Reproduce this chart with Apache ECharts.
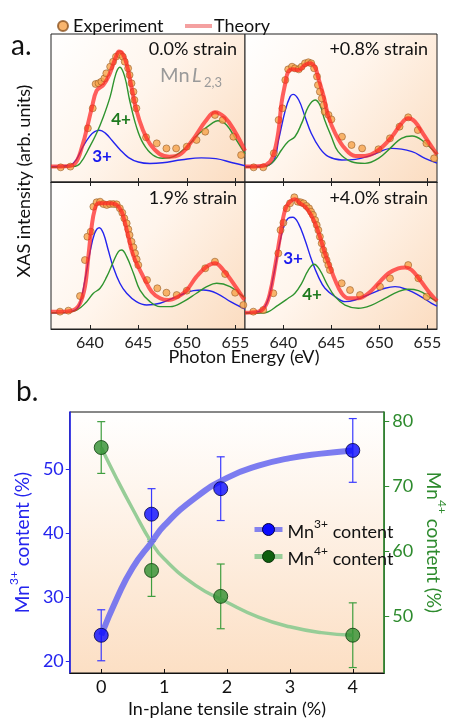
<!DOCTYPE html>
<html><head><meta charset="utf-8">
<script src="https://cdn.jsdelivr.net/npm/echarts@6/dist/echarts.min.js"></script>
<style>html,body{margin:0;padding:0;background:#fff}#c{width:456px;height:719px}</style>
</head><body><div id="c"></div>
<script>
// ---------- Panel a : XAS spectra (photon energy eV, intensity arb. units 0-100) ----------
const ticksA = [640, 645, 650, 655];

const exp_00 = [[637.0,9.9],[638.0,10.4],[639.8,36.3],[640.3,49.8],[640.6,66.2],[640.9,66.7],[641.2,67.8],[641.5,70.0],[641.7,73.4],[642.1,77.9],[642.4,81.3],[642.7,84.7],[643.1,86.3],[643.4,84.7],[643.6,81.3],[643.95,76.8],[644.1,72.3],[644.3,66.7],[644.5,61.0],[644.6,55.4],[644.8,49.8],[645.8,30.2],[646.9,26.1],[647.9,22.7],[648.9,22.7],[650.0,23.9],[651.0,28.4],[651.9,34.0],[652.9,45.3],[653.7,41.9],[654.8,30.6],[655.6,18.2]];
const th_00 = [[636.0,10.4],[637.5,10.6],[638.5,12.6],[639.3,26.1],[639.7,36.3],[640.2,49.8],[640.7,61.7],[641.4,65.5],[642.0,72.3],[642.7,84.7],[643.0,88.1],[643.4,86.5],[643.8,79.7],[644.3,64.0],[644.8,48.6],[645.5,34.7],[646.2,25.7],[647.2,18.9],[648.2,17.1],[649.2,18.2],[650.6,28.4],[651.9,40.8],[652.9,47.1],[653.9,43.7],[654.9,34.7],[656.0,21.0]];
const mn3_00 = [[636.0,10.4],[638.0,11.5],[638.6,15.0],[639.3,24.0],[640.0,31.0],[640.5,34.0],[641.0,35.0],[641.6,33.0],[642.3,28.0],[643.1,22.0],[644.0,16.5],[645.0,13.5],[646.2,12.5],[647.5,13.0],[649.5,15.0],[651.5,16.3],[653.0,15.8],[654.7,13.0],[656.0,11.0]];
const mn4_00 = [[636.0,9.9],[638.3,10.4],[639.0,12.6],[640.0,23.9],[640.7,32.9],[641.4,44.1],[642.1,57.7],[642.7,73.4],[643.1,77.5],[643.6,71.2],[644.1,55.4],[644.8,37.4],[645.5,26.1],[646.5,18.2],[647.5,16.0],[648.6,17.1],[650.0,23.9],[651.3,32.9],[652.7,40.1],[653.2,41.4],[654.1,38.5],[655.1,28.4],[656.0,19.0]];

const exp_08 = [[636.9,9.9],[637.9,9.9],[639.0,19.4],[639.5,41.9],[639.9,49.8],[640.2,68.9],[640.5,76.1],[640.9,77.9],[641.2,76.8],[641.6,76.1],[641.9,77.9],[642.25,80.2],[642.6,80.9],[642.9,80.2],[643.2,76.8],[643.5,71.2],[643.6,65.5],[643.8,61.0],[644.0,56.5],[644.2,52.0],[644.3,47.5],[644.7,45.3],[645.0,42.3],[646.1,30.6],[647.1,25.0],[648.2,22.7],[649.9,22.1],[651.1,29.5],[652.1,37.4],[653.0,43.7],[654.0,35.1],[654.9,26.1],[655.7,16.0]];
const th_08 = [[636.0,10.4],[637.7,10.8],[638.6,13.7],[639.1,21.6],[639.5,35.1],[639.8,53.2],[640.2,66.7],[640.5,74.5],[641.0,76.1],[641.6,75.7],[642.25,79.1],[642.8,80.2],[643.3,77.5],[643.6,71.2],[644.2,57.7],[644.7,44.1],[645.4,32.9],[646.4,22.7],[647.5,17.6],[648.5,17.6],[649.9,21.6],[651.3,30.6],[652.3,39.6],[653.0,43.0],[653.7,40.8],[654.75,30.6],[656.0,18.5]];
const mn3_08 = [[636.0,10.4],[638.0,10.8],[639.0,14.5],[639.5,28.4],[640.2,48.6],[640.7,57.7],[641.0,59.2],[641.6,55.4],[642.25,44.1],[642.9,32.9],[643.8,22.7],[644.7,17.1],[646.1,14.9],[647.5,15.3],[649.2,18.2],[651.3,22.7],[653.4,20.5],[654.75,16.0],[656.0,12.8]];
const mn4_08 = [[636.0,9.9],[638.1,10.4],[639.1,14.9],[639.8,21.6],[640.5,27.3],[641.2,30.6],[641.9,39.6],[642.6,50.9],[643.3,55.4],[643.8,52.0],[644.3,41.9],[645.0,30.6],[645.7,20.5],[647.1,13.7],[648.5,12.6],[649.9,16.0],[651.3,23.9],[652.3,29.5],[653.4,31.1],[654.4,28.4],[656.0,18.5]];

const exp_19 = [[636.93,11.8],[637.79,12.5],[638.99,22.4],[639.5,46.9],[639.75,62.8],[640.1,66.2],[640.37,83.2],[640.7,86.2],[641.06,86.6],[641.4,85.0],[641.75,84.4],[642.08,85.0],[642.43,85.0],[642.77,84.8],[643.1,82.1],[643.35,79.1],[643.56,75.3],[643.8,71.9],[643.97,67.8],[644.1,63.9],[644.3,59.4],[644.5,55.6],[644.66,51.5],[644.83,47.4],[645.0,43.5],[645.9,33.3],[646.96,27.7],[647.9,24.7],[648.96,23.1],[650.0,26.1],[651.9,41.3],[652.9,45.8],[653.95,37.4],[654.98,24.7],[655.83,16.3]];
const th_19 = [[636.0,11.8],[636.93,11.8],[638.3,12.9],[638.99,17.5],[639.5,28.8],[639.85,49.2],[640.19,69.6],[640.5,81.0],[640.88,85.5],[641.4,85.5],[642.08,85.5],[642.77,84.4],[643.28,79.8],[643.63,71.9],[643.97,62.8],[644.3,53.7],[644.66,46.9],[645.17,40.1],[645.69,33.3],[646.38,25.4],[647.24,20.9],[648.1,19.7],[649.1,22.0],[650.0,26.5],[651.0,35.6],[652.05,42.4],[652.9,44.7],[653.77,40.1],[654.8,31.1],[655.83,20.9],[656.0,20.0]];
const mn3_19 = [[636.0,11.1],[636.93,11.1],[638.47,12.9],[638.99,17.5],[639.5,33.3],[640.0,51.5],[640.5,65.1],[640.98,68.9],[641.4,65.1],[641.9,53.7],[642.4,42.4],[643.1,31.1],[643.8,24.3],[644.8,18.6],[645.86,16.3],[647.24,17.5],[648.96,22.0],[650.68,26.1],[651.7,26.5],[653.08,24.3],[654.5,18.6],[655.83,14.1],[656.0,13.8]];
const mn4_19 = [[636.0,11.1],[636.93,11.1],[638.65,12.9],[639.68,18.6],[640.37,24.3],[641.06,27.7],[641.75,35.6],[642.43,45.8],[642.95,52.6],[643.28,53.7],[643.8,49.2],[644.5,37.9],[645.17,26.5],[646.2,18.6],[647.24,15.2],[648.27,15.2],[649.65,18.6],[651.0,24.3],[652.05,28.8],[653.08,31.1],[654.46,28.8],[655.83,22.0],[656.0,21.5]];

const exp_40 = [[636.87,11.8],[637.9,12.9],[638.95,24.3],[639.47,51.5],[639.7,67.3],[640.0,72.3],[640.34,82.1],[640.69,85.5],[641.14,89.6],[641.49,86.6],[641.8,86.2],[642.1,85.5],[642.4,83.7],[642.67,82.1],[642.88,79.8],[643.08,77.6],[643.3,74.1],[643.47,70.7],[643.64,67.3],[643.8,62.8],[643.99,58.3],[644.16,53.7],[644.33,50.3],[644.5,46.9],[644.68,43.5],[644.85,40.1],[646.07,31.1],[646.94,26.5],[647.98,23.1],[650.06,28.8],[651.1,34.5],[653.0,43.5],[654.06,34.5],[654.92,22.0]];
const th_40 = [[636.0,11.1],[637.39,11.8],[638.08,15.2],[638.6,24.3],[639.13,42.4],[639.65,62.8],[640.17,81.0],[640.69,86.6],[641.2,88.2],[641.73,85.5],[642.25,83.2],[642.77,78.7],[643.3,71.9],[643.8,62.8],[644.33,51.5],[644.85,42.4],[645.38,33.3],[646.07,24.3],[646.76,20.9],[647.8,20.9],[648.85,24.3],[649.9,31.1],[650.93,37.9],[651.97,41.3],[652.67,41.9],[653.36,40.1],[654.23,33.3],[655.27,24.3],[656.0,19.0]];
const mn3_40 = [[636.0,11.1],[637.39,11.8],[638.26,17.5],[638.95,35.6],[639.47,53.7],[639.99,68.5],[640.5,75.3],[640.97,76.0],[641.56,71.9],[642.25,60.5],[642.94,46.9],[643.64,35.6],[644.33,27.7],[645.38,22.0],[646.42,18.6],[647.46,19.7],[649.2,24.3],[650.58,27.7],[651.63,28.8],[653.0,26.5],[654.06,23.1],[655.44,17.5],[656.0,15.6]];
const mn4_40 = [[636.0,10.7],[638.08,11.1],[639.47,16.3],[640.5,20.9],[641.2,24.3],[641.9,31.1],[642.6,40.1],[643.2,44.0],[643.8,40.1],[644.5,31.1],[645.38,22.0],[646.42,16.3],[647.8,14.1],[649.2,16.3],[650.58,20.9],[651.97,25.4],[653.0,27.0],[654.06,26.1],[655.44,20.9],[656.0,18.6]];

// ---------- Panel b : Mn valence vs strain ----------
const strain = [0, 0.8, 1.9, 4];
const mn3 = [24, 43, 47, 53];
const mn3Lo = [20, 39, 42, 48];
const mn3Hi = [28, 47, 52, 58];
const mn4 = [76, 57, 53, 47];
const mn4Lo = [72, 53, 48, 42];
const mn4Hi = [80, 61.5, 58, 52];
const fitX = [0, 0.25, 0.5, 0.8, 1, 1.5, 2, 2.5, 3, 3.5, 4];
const mn3Fit = [24, 29.8, 34.6, 38.6, 41.2, 45.6, 48.7, 50.6, 51.8, 52.5, 53.0];
const mn4Fit = [76, 71.1, 66.5, 61.3, 58.8, 54.7, 52.1, 49.8, 48.3, 47.4, 47.0];
const ticksBx = [0, 1, 2, 3, 4];
const ticksBl = [20, 30, 40, 50];
const ticksBr = [50, 60, 70, 80];

// ---------- chart ----------
const FONT = 'Lato';
const BLUE = '#2424ee', GREEN = '#2e8b2e';
const chart = echarts.init(document.getElementById('c'));

const gradA = () => new echarts.graphic.LinearGradient(0, 0, 1, 1, [
  {offset: 0, color: '#ffffff'}, {offset: 0.45, color: '#fff5ec'}, {offset: 1, color: '#fbdcc0'}]);
const gradB = new echarts.graphic.LinearGradient(0, 0, 0, 1, [
  {offset: 0, color: '#ffffff'}, {offset: 1, color: '#fcdfc4'}]);

const gA = (l, t, w, h) => ({left: l, top: t, width: w, height: h, show: true, backgroundColor: gradA(), borderColor: '#222', borderWidth: 1});

const xa = (gi, showLabel, pos) => ({
  gridIndex: gi, type: 'value', min: 636, max: 656, position: pos || 'bottom',
  axisLine: {show: true, onZero: false, lineStyle: {color: '#222', width: 1}},
  axisTick: {show: true, inside: true, length: 4, customValues: ticksA, lineStyle: {color: '#222'}},
  axisLabel: {show: showLabel, customValues: ticksA, fontSize: 16, color: '#222', margin: 6, fontFamily: FONT},
  splitLine: {show: false}
});
const ya = (gi) => ({gridIndex: gi, type: 'value', min: 0, max: 100,
  axisLine: {show: false, onZero: false}, axisTick: {show: false}, axisLabel: {show: false}, splitLine: {show: false}});

const panels = [
  {exp: exp_00, th: th_00, m3: mn3_00, m4: mn4_00},
  {exp: exp_08, th: th_08, m3: mn3_08, m4: mn4_08},
  {exp: exp_19, th: th_19, m3: mn3_19, m4: mn4_19},
  {exp: exp_40, th: th_40, m3: mn3_40, m4: mn4_40}
];
const series = [];
panels.forEach((p, i) => {
  series.push({type: 'line', name: '3+ ' + i, xAxisIndex: i, yAxisIndex: i, data: p.m3, smooth: 0.4, symbol: 'none',
    lineStyle: {color: BLUE, width: 1.4}, z: 2, silent: true});
  series.push({type: 'line', name: '4+ ' + i, xAxisIndex: i, yAxisIndex: i, data: p.m4, smooth: 0.4, symbol: 'none',
    lineStyle: {color: '#2f942f', width: 1.4}, z: 2, silent: true});
  series.push({type: 'scatter', name: 'Experiment', xAxisIndex: i, yAxisIndex: i, data: p.exp, symbolSize: 7,
    itemStyle: {color: '#f6a24a', borderColor: '#8c5420', borderWidth: 0.7}, z: 3, silent: true});
  series.push({type: 'line', name: 'Theory', xAxisIndex: i, yAxisIndex: i, data: p.th, smooth: 0.4, symbol: 'none',
    itemStyle: {color: '#f4a0a0'}, lineStyle: {color: 'rgba(255,35,35,0.72)', width: 4}, z: 4, silent: true});
});

const errBar = (color) => (params, api) => {
  const x = api.value(0);
  const p1 = api.coord([x, api.value(1)]);
  const p2 = api.coord([x, api.value(2)]);
  const st = {stroke: color, lineWidth: 1.2};
  return {type: 'group', children: [
    {type: 'line', shape: {x1: p1[0], y1: p1[1], x2: p2[0], y2: p2[1]}, style: st},
    {type: 'line', shape: {x1: p1[0] - 4, y1: p1[1], x2: p1[0] + 4, y2: p1[1]}, style: st},
    {type: 'line', shape: {x1: p2[0] - 4, y1: p2[1], x2: p2[0] + 4, y2: p2[1]}, style: st}
  ]};
};

series.push({type: 'custom', name: 'err3', xAxisIndex: 6, yAxisIndex: 4, renderItem: errBar('#3a3aff'),
  data: strain.map((x, i) => [x, mn3Lo[i], mn3Hi[i]]), encode: {x: 0, y: [1, 2]}, z: 1, silent: true});
series.push({type: 'custom', name: 'err4', xAxisIndex: 6, yAxisIndex: 5, renderItem: errBar('#3f9e3f'),
  data: strain.map((x, i) => [x, mn4Lo[i], mn4Hi[i]]), encode: {x: 0, y: [1, 2]}, z: 1, silent: true});
series.push({type: 'line', name: 'Mn4+ content', xAxisIndex: 6, yAxisIndex: 5, data: fitX.map((x, i) => [x, mn4Fit[i]]),
  smooth: true, symbol: 'circle', symbolSize: 14, showSymbol: false,
  itemStyle: {color: '#0f5f0f', borderColor: '#083008', borderWidth: 1},
  lineStyle: {color: '#97cd97', width: 3.5}, z: 2, silent: true});
series.push({type: 'line', name: 'Mn3+ content', xAxisIndex: 6, yAxisIndex: 4, data: fitX.map((x, i) => [x, mn3Fit[i]]),
  smooth: true, symbol: 'circle', symbolSize: 14, showSymbol: false,
  itemStyle: {color: '#0a0aff', borderColor: '#000044', borderWidth: 1},
  lineStyle: {color: 'rgba(110,110,240,0.9)', width: 6}, z: 2, silent: true});
series.push({type: 'scatter', name: 'mn3pts', xAxisIndex: 6, yAxisIndex: 4, data: strain.map((x, i) => [x, mn3[i]]),
  symbolSize: 14, itemStyle: {color: '#0a0aff', borderColor: '#000044', borderWidth: 1}, z: 5, silent: true});
series.push({type: 'scatter', name: 'mn4pts', xAxisIndex: 6, yAxisIndex: 5, data: strain.map((x, i) => [x, mn4[i]]),
  symbolSize: 14, itemStyle: {color: '#2f8f2f', borderColor: '#0b3d0b', borderWidth: 1}, z: 5, silent: true});

const supRich = (c, fs) => ({
  m: {fontSize: fs || 19, color: c, fontFamily: FONT, padding: [5, 0, 0, 0], verticalAlign: 'top'},
  s: {fontSize: 12, color: c, fontFamily: FONT, verticalAlign: 'top'}
});

const txt = (x, y, text, extra) => Object.assign({type: 'text', x: x, y: y, silent: true,
  style: Object.assign({text: text, fill: '#111', font: '18px ' + FONT, align: 'left', verticalAlign: 'middle'}, extra || {})});

const option = {
  animation: false,
  grid: [gA(51, 34, 194, 148), gA(245, 34, 192, 148), gA(51, 182, 194, 147), gA(245, 182, 192, 147),
    {left: 69, top: 412, width: 334, height: 263, show: true, backgroundColor: gradB, borderColor: '#111', borderWidth: 1}],
  xAxis: [xa(0, false), xa(1, false), xa(2, true), xa(3, true), xa(2, false, 'top'), xa(3, false, 'top'),
    {gridIndex: 4, type: 'value', min: -0.5, max: 4.5, position: 'bottom',
      axisLine: {show: true, onZero: false, lineStyle: {color: '#111', width: 1}},
      axisTick: {show: true, inside: true, length: 4, customValues: ticksBx, lineStyle: {color: '#111'}},
      axisLabel: {customValues: ticksBx, fontSize: 18, color: '#111', margin: 5, fontFamily: FONT},
      splitLine: {show: false},
      name: 'In-plane tensile strain (%)', nameLocation: 'middle', nameGap: 27,
      nameTextStyle: {fontSize: 18, color: '#111', fontFamily: FONT}}],
  yAxis: [ya(0), ya(1), ya(2), ya(3),
    {gridIndex: 4, type: 'value', min: 18.08, max: 59.03, position: 'left',
      axisLine: {show: true, onZero: false, lineStyle: {color: BLUE, width: 1.6}},
      axisTick: {show: true, inside: false, length: 4, customValues: ticksBl, lineStyle: {color: BLUE}},
      axisLabel: {customValues: ticksBl, fontSize: 18, color: BLUE, margin: 6, fontFamily: FONT},
      splitLine: {show: false},
      name: '{m|Mn}{s|3+}{m| content (%)}', nameLocation: 'middle', nameGap: 36, nameRotate: 90,
      nameTextStyle: {color: BLUE, fontSize: 19, fontFamily: FONT, rich: supRich(BLUE)}},
    {gridIndex: 4, type: 'value', min: 41.16, max: 81.49, position: 'right',
      axisLine: {show: true, onZero: false, lineStyle: {color: GREEN, width: 1.6}},
      axisTick: {show: true, inside: false, length: 5, customValues: ticksBr, lineStyle: {color: GREEN}},
      axisLabel: {customValues: ticksBr, fontSize: 18, color: GREEN, margin: 8, fontFamily: FONT},
      splitLine: {show: false},
      name: '{m|Mn}{s|4+}{m| content (%)}', nameLocation: 'middle', nameGap: 32, nameRotate: -90,
      nameTextStyle: {color: GREEN, fontSize: 19, fontFamily: FONT, rich: supRich(GREEN)}}],
  legend: [
    {data: [{name: 'Experiment', icon: 'circle'}], left: 52, top: 12, itemWidth: 10, itemHeight: 10, selectedMode: false,
      textStyle: {fontSize: 18, color: '#111', fontFamily: FONT}},
    {data: [{name: 'Theory', icon: 'rect', itemStyle: {color: '#f4a0a0'}}], left: 180, top: 12, itemWidth: 27, itemHeight: 4,
      selectedMode: false, textStyle: {fontSize: 18, color: '#111', fontFamily: FONT, padding: [0, 0, 0, -3]}},
    {data: [
        {name: 'Mn3+ content', itemStyle: {color: '#0a0aff', borderColor: '#000044', borderWidth: 1},
          lineStyle: {color: 'rgba(110,110,240,0.85)', width: 5}},
        {name: 'Mn4+ content', itemStyle: {color: '#0f5f0f', borderColor: '#083008', borderWidth: 1},
          lineStyle: {color: '#97cd97', width: 5}}],
      orient: 'vertical', left: 247, top: 513, itemWidth: 28, itemHeight: 15, itemGap: 4,
      selectedMode: false,
      formatter: (n) => n === 'Mn3+ content' ? '{m|Mn}{s|3+}{m| content}' : '{m|Mn}{s|4+}{m| content}',
      textStyle: {fontSize: 18, color: '#111', fontFamily: FONT, rich: supRich('#111', 18)}}
  ],
  graphic: [
    txt(11, 46, 'a.', {font: '28px ' + FONT}),
    txt(16, 392, 'b.', {font: '28px ' + FONT}),
    txt(237, 49, '0.0% strain', {align: 'right'}),
    txt(428, 49, '+0.8% strain', {align: 'right'}),
    txt(237, 198, '1.9% strain', {align: 'right'}),
    txt(428, 198, '+4.0% strain', {align: 'right'}),
    txt(160, 76, 'Mn ', {fill: '#9a9a9a', font: '20px ' + FONT}),
    txt(192, 76, 'L', {fill: '#9a9a9a', font: 'italic 20px ' + FONT}),
    txt(204, 83, '2,3', {fill: '#9a9a9a', font: '13px ' + FONT}),
    txt(102, 157, '3+', {fill: '#1a1aee', font: 'bold 17px ' + FONT, align: 'center'}),
    txt(121, 120, '4+', {fill: '#1f7a1f', font: 'bold 17px ' + FONT, align: 'center'}),
    txt(293, 259, '3+', {fill: '#1a1aee', font: 'bold 17px ' + FONT, align: 'center'}),
    txt(312, 295, '4+', {fill: '#1f7a1f', font: 'bold 17px ' + FONT, align: 'center'}),
    Object.assign(txt(24, 181, 'XAS intensity (arb. units)', {align: 'center', font: '18px ' + FONT}), {rotation: Math.PI / 2}),
    txt(244, 357, 'Photon Energy (eV)', {align: 'center', font: '18px ' + FONT})
  ],
  series: series
};
chart.setOption(option);
</script></body></html>
